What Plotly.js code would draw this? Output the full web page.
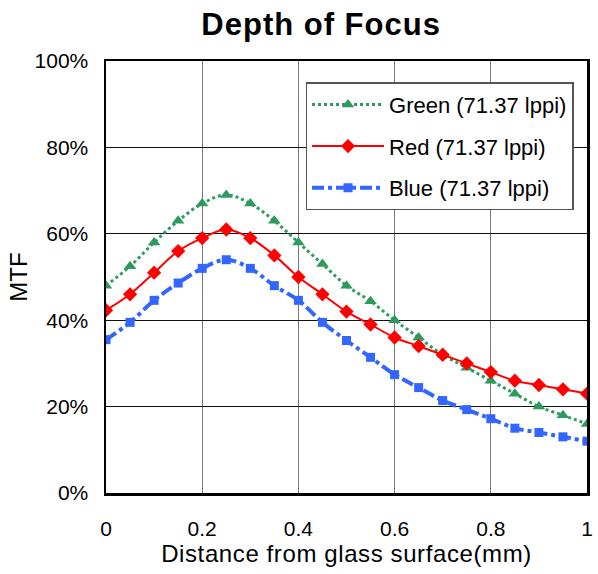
<!DOCTYPE html>
<html><head><meta charset="utf-8">
<script src="https://cdn.plot.ly/plotly-3.0.1.min.js"></script>
<style>
html,body{margin:0;padding:0;background:#fff}
.xtitle{letter-spacing:0.6px}
.gtitle{letter-spacing:1px}
</style>
</head><body>
<div id="chart" style="width:598px;height:574px"></div>
<script>
const xVals = [0,0.05,0.1,0.15,0.2,0.25,0.3,0.35,0.4,0.45,0.5,0.55,0.6,0.65,0.7,0.75,0.8,0.85,0.9,0.95,1.0];
const green = [48,52.5,58,63,67,69,67,63,58,53,48,44.4,40,36,32,29,26,23,20,18,16];
const red = [42.3,46,51,56,59,61,59,55,50,46,42,39,36,34,32,30,28,26,25,24,23];
const blue = [35.5,39.5,44.6,48.6,52,54,52,48,44.6,39.5,35.3,31.4,27.4,24.4,21.4,19.3,17.2,15,14,13,12];
const names = ["Green (71.37 lppi)","Red (71.37 lppi)","Blue (71.37 lppi)"];
const xTicks = [0,0.2,0.4,0.6,0.8,1];
const xTickText = ["0","0.2","0.4","0.6","0.8","1"];
const yTicks = [0,20,40,60,80,100];
const yTickText = ["0%","20%","40%","60%","80%","100%"];

const traces = [
  {x:xVals,y:green,name:names[0],legendgroup:'g',mode:'lines+markers',line:{color:'#2E9A5E',width:3,dash:'dot',shape:'spline'},marker:{symbol:'triangle-up',size:11,color:'#2E9A5E'}},
  {x:xVals,y:red,name:names[1],legendgroup:'r',mode:'lines+markers',line:{color:'#FF0000',width:2,shape:'spline'},marker:{symbol:'diamond',size:11,color:'#FF0000'}},
  {x:xVals,y:blue,name:names[2],legendgroup:'b',mode:'lines+markers',line:{color:'#3366FF',width:4,dash:'dashdot',shape:'spline'},marker:{symbol:'square',size:9,color:'#3366FF'}}
];
const layout = {
  width:598,height:574,
  margin:{l:106,r:11,t:61,b:81},
  paper_bgcolor:'#fff',plot_bgcolor:'#fff',
  font:{family:'Liberation Sans, Arial, sans-serif',color:'#000'},
  title:{text:'<b>Depth of Focus</b>',font:{size:31,family:'Liberation Sans, Arial, sans-serif'},x:0.537,xanchor:'center',y:0.958,yanchor:'middle'},
  xaxis:{range:[0,1],tickvals:xTicks,ticktext:xTickText,tickfont:{size:21},ticklabelstandoff:15,
    showgrid:true,gridcolor:'#777',gridwidth:1,zeroline:false,
    showline:true,linecolor:'#000',linewidth:2.5,mirror:true,ticks:'',
    title:{text:'Distance from glass surface(mm)',font:{size:24},standoff:6}},
  yaxis:{range:[0,100],tickvals:yTicks,ticktext:yTickText,tickfont:{size:21},ticklabelstandoff:11,
    showgrid:true,gridcolor:'#111',gridwidth:1,zeroline:false,
    showline:true,linecolor:'#000',linewidth:2.5,mirror:true,ticks:'',
    title:{text:'MTF',font:{size:24},standoff:0}},
  legend:{x:0.972,y:0.951,xanchor:'right',yanchor:'top',bgcolor:'#fff',bordercolor:'#555',borderwidth:1.5,
    font:{size:22},traceorder:'grouped',tracegroupgap:10,itemwidth:72},
  showlegend:true
};
Plotly.newPlot('chart',traces,layout,{displayModeBar:false,staticPlot:true});
</script>
</body></html>
